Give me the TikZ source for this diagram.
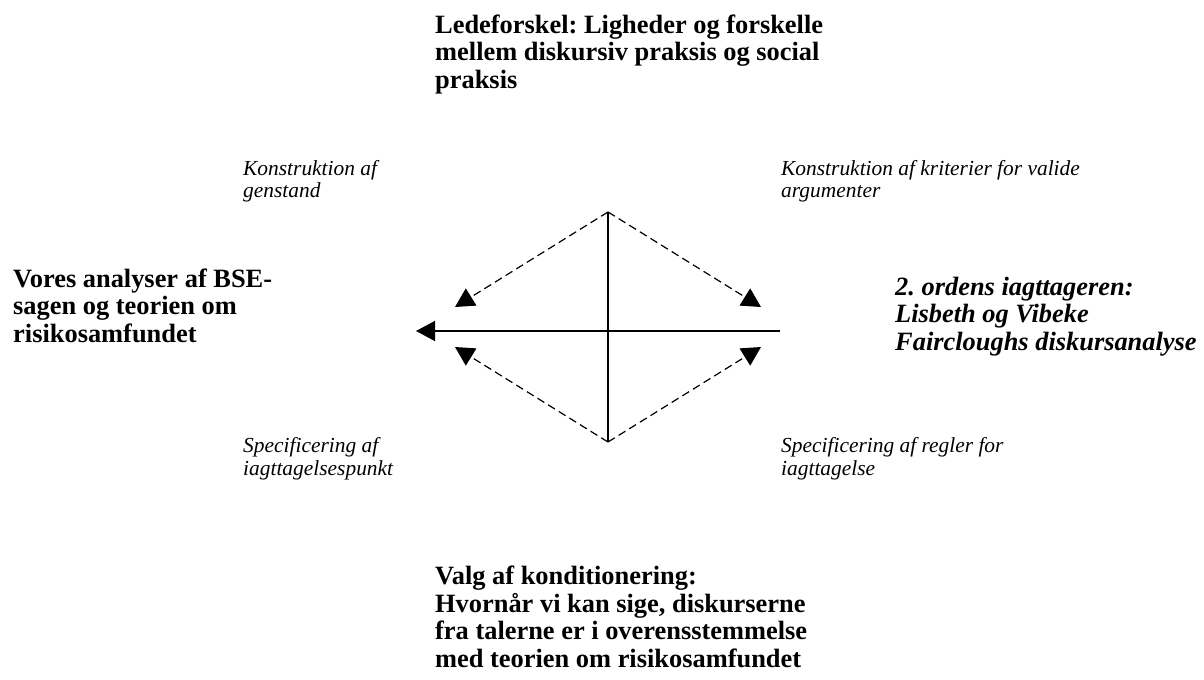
\documentclass[tikz,border=0pt]{standalone}
\usepackage{fontspec}
\setmainfont{Liberation Serif}
\frenchspacing
\usetikzlibrary{arrows.meta}
\tikzset{
  bigtxt/.style={anchor=base west, inner sep=0pt, align=left, font=\fontsize{26.5}{27.8}\selectfont\bfseries},
  bigital/.style={bigtxt, font=\fontsize{26.5}{27.8}\selectfont\bfseries\itshape},
  smalltxt/.style={anchor=base west, inner sep=0pt, align=left, font=\fontsize{21.5}{23}\selectfont\itshape},
  mainline/.style={line width=1.4bp},
  dashline/.style={line width=1.2bp, dash pattern=on 8bp off 4.5bp},
  tip/.style={-{Triangle[length=19bp,width=20bp]}}
}
\begin{document}
\begin{tikzpicture}[x=1bp,y=-1bp]
\useasboundingbox (0,0) rectangle (1204,680);
% anchors are at the baseline of the LAST line of each text
\node[bigtxt] (title) at (435,88.6) {Ledeforskel: Ligheder og forskelle\\mellem diskursiv praksis og social\\praksis};
\node[smalltxt] (tl) at (243,198) {Konstruktion af\\genstand};
\node[smalltxt] (tr) at (781,198) {Konstruktion af kriterier for valide\\argumenter};
\node[bigtxt] (left) at (13,342.6) {Vores analyser af BSE-\\sagen og teorien om\\risikosamfundet};
\node[bigital] (right) at (895,350.6) {2. ordens iagttageren:\\Lisbeth og Vibeke\\Faircloughs diskursanalyse};
\node[smalltxt] (bl) at (243,475.5) {Specificering af\\iagttagelsespunkt};
\node[smalltxt] (br) at (781,475.5) {Specificering af regler for\\iagttagelse};
\node[bigtxt] (bottom) at (435,667.4) {Valg af konditionering:\\Hvornår vi kan sige, diskurserne\\fra talerne er i overensstemmelse\\med teorien om risikosamfundet};

\coordinate (top) at (608,212);
\coordinate (bot) at (608,442);
\coordinate (east) at (780,331);
\coordinate (west) at (416,331);
\coordinate (ul) at (455,307);
\coordinate (ur) at (761,307);
\coordinate (ll) at (455,347);
\coordinate (lr) at (761,347);

\draw[mainline] (top) -- (bot);
\draw[mainline, tip] (east) -- (west);
\draw[dashline, tip] (top) -- (ul);
\draw[dashline, tip] (top) -- (ur);
\draw[dashline, tip] (bot) -- (ll);
\draw[dashline, tip] (bot) -- (lr);
\end{tikzpicture}
\end{document}
